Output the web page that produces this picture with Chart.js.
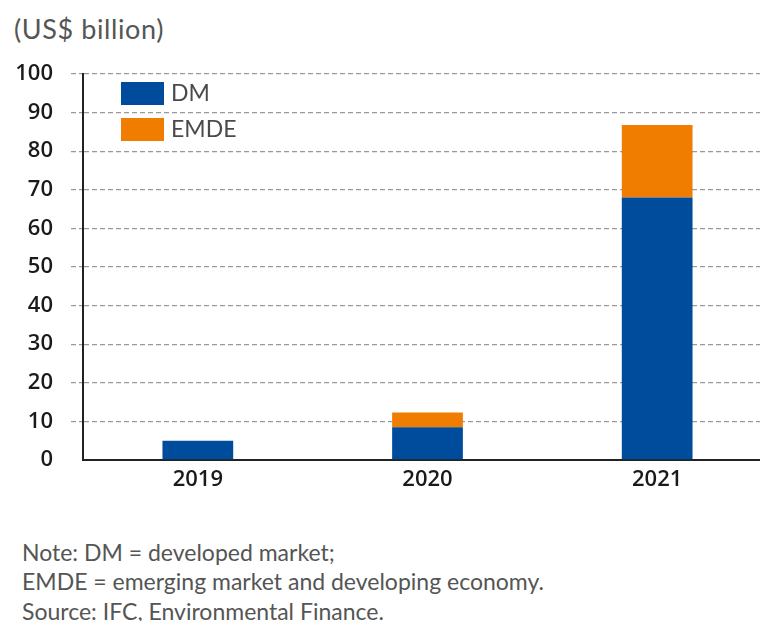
<!DOCTYPE html>
<html>
<head>
<meta charset="utf-8">
<script src="https://cdn.jsdelivr.net/npm/chart.js@4.4.0/dist/chart.umd.min.js"></script>
<style>
  html, body { margin: 0; padding: 0; background: #fff; overflow: hidden; }
  body { width: 760px; height: 621px; position: relative; }
  #wrap { position: absolute; left: 0; top: 0; width: 772px; height: 500px; }
  .txt { position: absolute; font-family: Lato, "Open Sans", sans-serif; color: #555; white-space: nowrap; }
  #unit { left: 14px; top: 13px; font-size: 27px; line-height: 32px; letter-spacing: 0.6px; }
  .note { left: 22px; font-size: 23px; line-height: 28px; }
</style>
</head>
<body>
<div class="txt" id="unit">(US$ billion)</div>
<div id="wrap"><canvas id="bondChart"></canvas></div>
<div class="txt note" style="top:538px">Note: DM = developed market;</div>
<div class="txt note" style="top:567px">EMDE = emerging market and developing economy.</div>
<div class="txt note" style="top:597px">Source: IFC, Environmental Finance.</div>

<script>
// ========== DADOS ==========
const anos = ['2019', '2020', '2021'];
const valoresDM = [5, 8.5, 68];
const valoresEMDE = [0, 3.8, 18.8];
const ticksY = [0, 10, 20, 30, 40, 50, 60, 70, 80, 90, 100];

const corDM = '#004c9c';
const corEMDE = '#f07d00';

const fonteEixo = { family: '"Open Sans"', size: 22, weight: '600' };

// legenda desenhada dentro da área do gráfico, no canto superior esquerdo
const legendaCaixas = {
    id: 'legendaCaixas',
    afterDraw(chart) {
        const ctx = chart.ctx;
        const area = chart.chartArea;
        ctx.save();
        ctx.font = '23px Lato, "Open Sans", sans-serif';
        ctx.textBaseline = 'middle';
        chart.data.datasets.forEach((ds, i) => {
            const x = area.left + 38;
            const y = area.top + 8 + i * 36;
            ctx.fillStyle = ds.backgroundColor;
            ctx.fillRect(x, y, 43, 23);
            ctx.fillStyle = '#4a4a4a';
            ctx.fillText(ds.label, x + 50, y + 12);
        });
        ctx.restore();
    }
};

const ctx = document.getElementById('bondChart');

new Chart(ctx.getContext('2d'), {
    type: 'bar',
    data: {
        labels: anos,
        datasets: [
            { label: 'DM', data: valoresDM, backgroundColor: corDM },
            { label: 'EMDE', data: valoresEMDE, backgroundColor: corEMDE }
        ]
    },
    options: {
        responsive: true,
        maintainAspectRatio: false,
        animation: false,
        layout: { padding: { top: 74, right: 0, bottom: 0, left: 0 } },
        plugins: {
            legend: { display: false },
            tooltip: { enabled: false }
        },
        datasets: {
            bar: { barPercentage: 0.308, categoryPercentage: 1 }
        },
        scales: {
            x: {
                stacked: true,
                grid: { display: false, drawTicks: false },
                border: { display: true, color: '#222', width: 2 },
                ticks: {
                    padding: 7,
                    color: '#1a1a1a',
                    font: fonteEixo
                },
                afterFit: function(scale) { scale.height = 40; }
            },
            y: {
                stacked: true,
                min: 0,
                max: 100,
                afterBuildTicks: function(scale) {
                    scale.ticks = ticksY.map(v => ({ value: v }));
                },
                grid: {
                    color: function(c) { return c.tick && c.tick.value === 0 ? 'rgba(0,0,0,0)' : '#9a9a9a'; },
                    lineWidth: 1.3,
                    tickLength: 12,
                    tickBorderDash: [5, 3]
                },
                border: { display: true, color: '#222', width: 2, dash: [5, 3] },
                ticks: {
                    padding: 18,
                    color: '#1a1a1a',
                    font: fonteEixo
                },
                afterFit: function(scale) { scale.width = 83; }
            }
        }
    },
    plugins: [legendaCaixas]
});
</script>
</body>
</html>
